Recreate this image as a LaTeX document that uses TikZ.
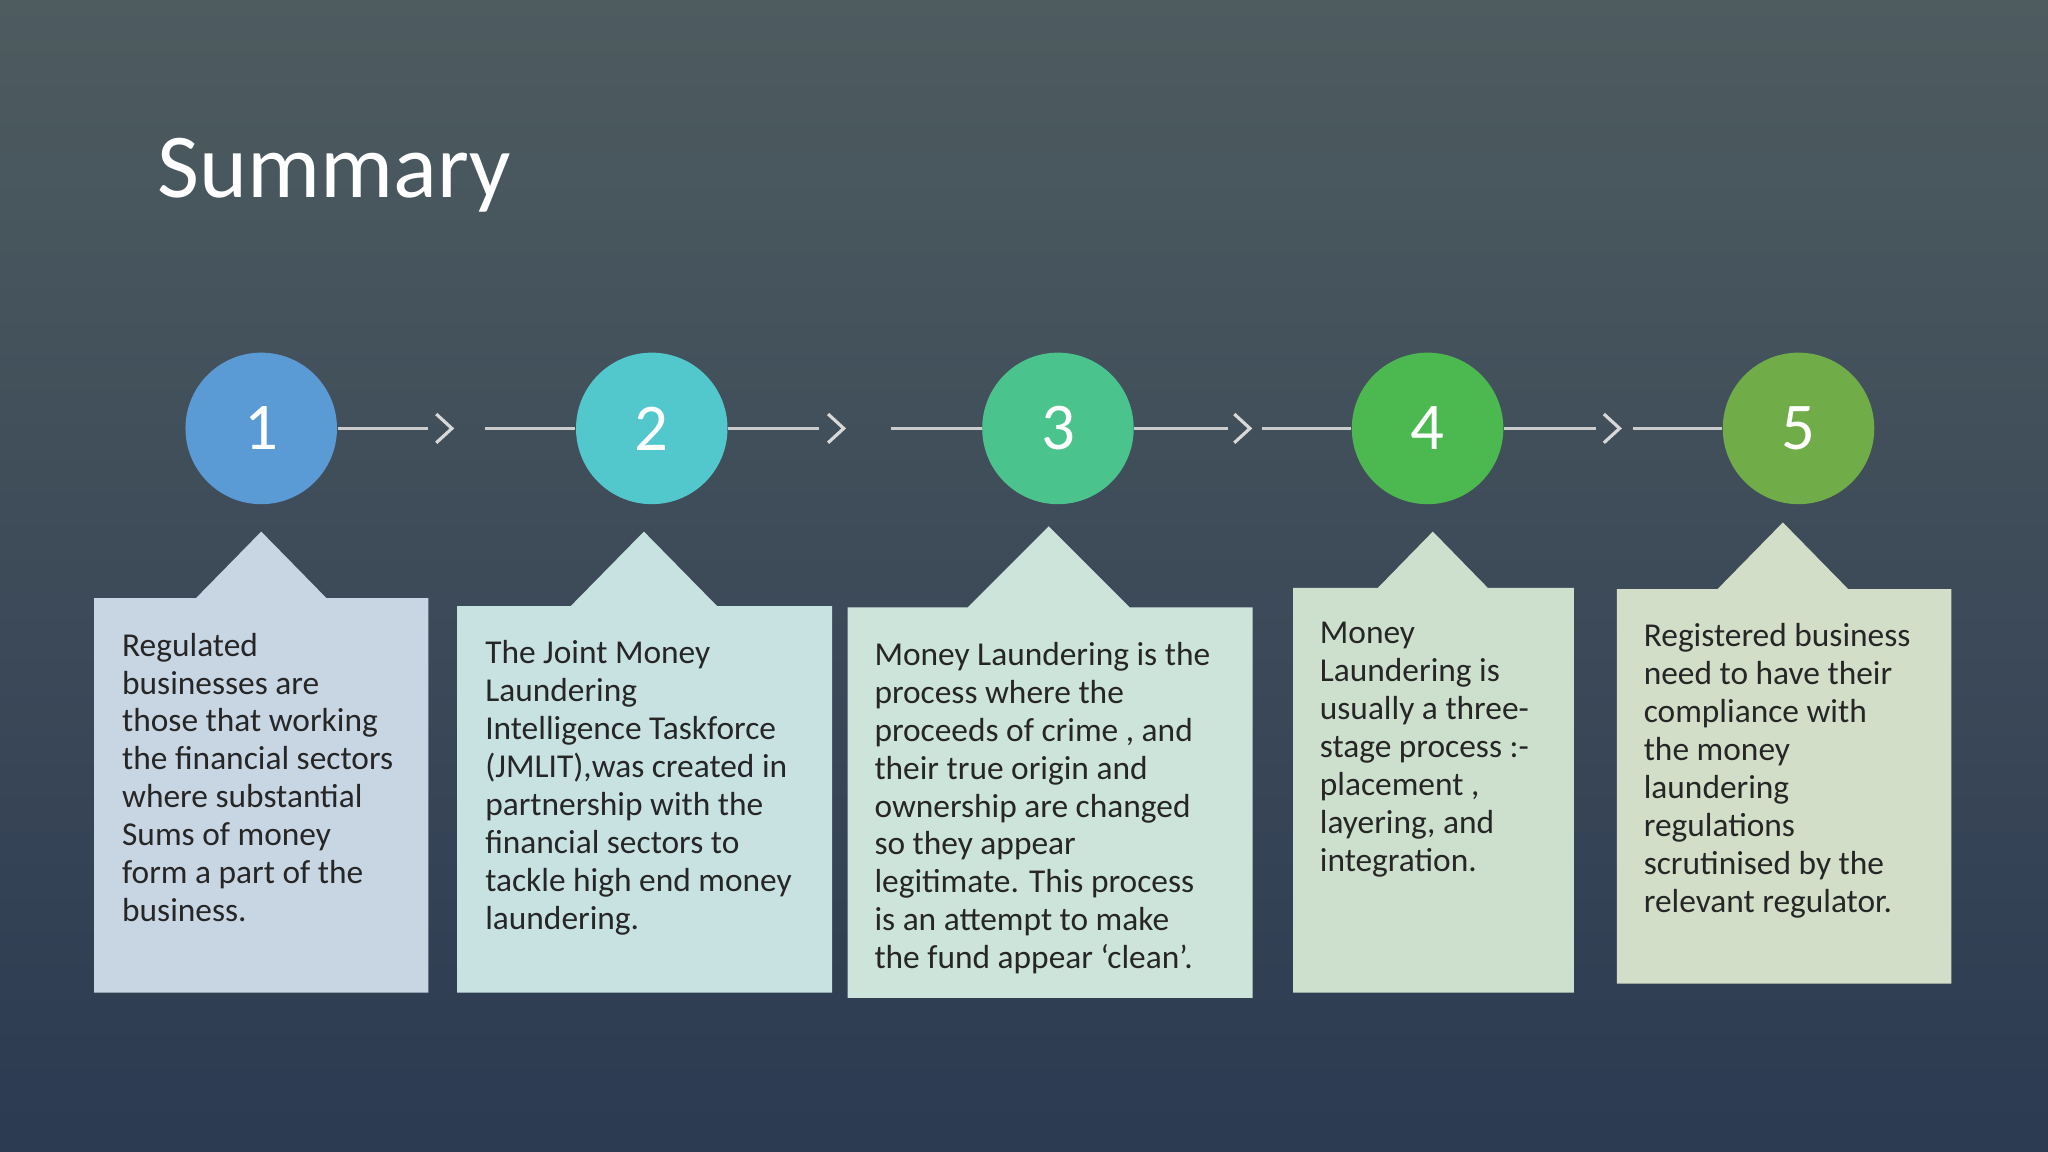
\documentclass[tikz,border=0pt]{standalone}
\usepackage{fontspec}
\setmainfont{Carlito}
\begin{document}
\begin{tikzpicture}[x=0.013061cm,y=-0.013061cm,
  conn/.style={draw=gray!40!white,line width=0.9pt},
  chev/.style={draw=gray!30!white,line width=0.9pt},
  num/.style={circle,minimum size={116*0.013061cm},inner sep=0pt,text=white,font=\fontsize{19}{22}\selectfont},
  txt/.style={anchor=north west,align=left,inner sep=0pt,text=black!85,font=\fontsize{9.5}{10.8}\selectfont}]
\definecolor{bgtop}{RGB}{78,92,96}
\definecolor{bgbot}{RGB}{44,58,82}
\definecolor{c1}{RGB}{91,155,213}
\definecolor{c2}{RGB}{82,200,205}
\definecolor{c3}{RGB}{75,195,140}
\definecolor{c4}{RGB}{75,185,80}
\definecolor{c5}{RGB}{112,172,72}
\definecolor{b1}{RGB}{200,214,228}
\definecolor{b2}{RGB}{200,226,226}
\definecolor{b3}{RGB}{205,228,218}
\definecolor{b4}{RGB}{205,224,205}
\definecolor{b5}{RGB}{210,222,200}
\shade[top color=bgtop,bottom color=bgbot] (0,0) rectangle (1568,882);
\useasboundingbox (0,0) rectangle (1568,882);
\node[anchor=west,text=white,inner sep=0pt,font=\fontsize{26}{30}\selectfont] (title) at (120,134) {Summary};
% boxes
\fill[b1] (72,458)--(150,458)--(200,407)--(250,458)--(328,458)--(328,760)--(72,760)--cycle;
\fill[b2] (350,464)--(437,464)--(493,407)--(549,464)--(637,464)--(637,760)--(350,760)--cycle;
\fill[b3] (649,465)--(741,465)--(803,403)--(865,465)--(959,465)--(959,764)--(649,764)--cycle;
\fill[b4] (990,450)--(1055,450)--(1097,407)--(1139,450)--(1205,450)--(1205,760)--(990,760)--cycle;
\fill[b5] (1238,451)--(1315,451)--(1365,400)--(1415,451)--(1494,451)--(1494,753)--(1238,753)--cycle;
% circles
\node[num,fill=c1] (n1) at (200,328) {1};
\node[num,fill=c2] (n2) at (499,328) {2};
\node[num,fill=c3] (n3) at (810,328) {3};
\node[num,fill=c4] (n4) at (1093,328) {4};
\node[num,fill=c5] (n5) at (1377,328) {5};
% connectors
\foreach \a/\b/\p/\q/\r in {n1/n2/328/340/371, n2/n3/627/640/682, n3/n4/940/951/966, n4/n5/1222/1234/1250}{
  \coordinate (e\a) at (\p,328);
  \coordinate (s\a) at (\r,328);
  \draw[conn] (\a.east) -- (e\a);
  \draw[chev] (\q-6,317) -- (\q+6,328) -- (\q-6,339);
  \draw[conn] (s\a) -- (\b.west);
}
% texts
\node[txt] (t1) at (93,484) {Regulated\\businesses are\\those that working\\the financial sectors\\where substantial\\Sums of money\\form a part of the\\business.};
\node[txt] (t2) at (371,490) {The Joint Money\\Laundering\\Intelligence Taskforce\\(JMLIT),was created in\\partnership with the\\financial sectors to\\tackle high end money\\laundering.};
\node[txt] (t3) at (669,491) {Money Laundering is the\\process where the\\proceeds of crime , and\\their true origin and\\ownership are changed\\so they appear\\legitimate. This process\\is an attempt to make\\the fund appear ‘clean’.};
\node[txt] (t4) at (1010,476) {Money\\Laundering is\\usually a three-\\stage process :-\\placement ,\\layering, and\\integration.};
\node[txt] (t5) at (1258,477) {Registered business\\need to have their\\compliance with\\the money\\laundering\\regulations\\scrutinised by the\\relevant regulator.};
\end{tikzpicture}
\end{document}
